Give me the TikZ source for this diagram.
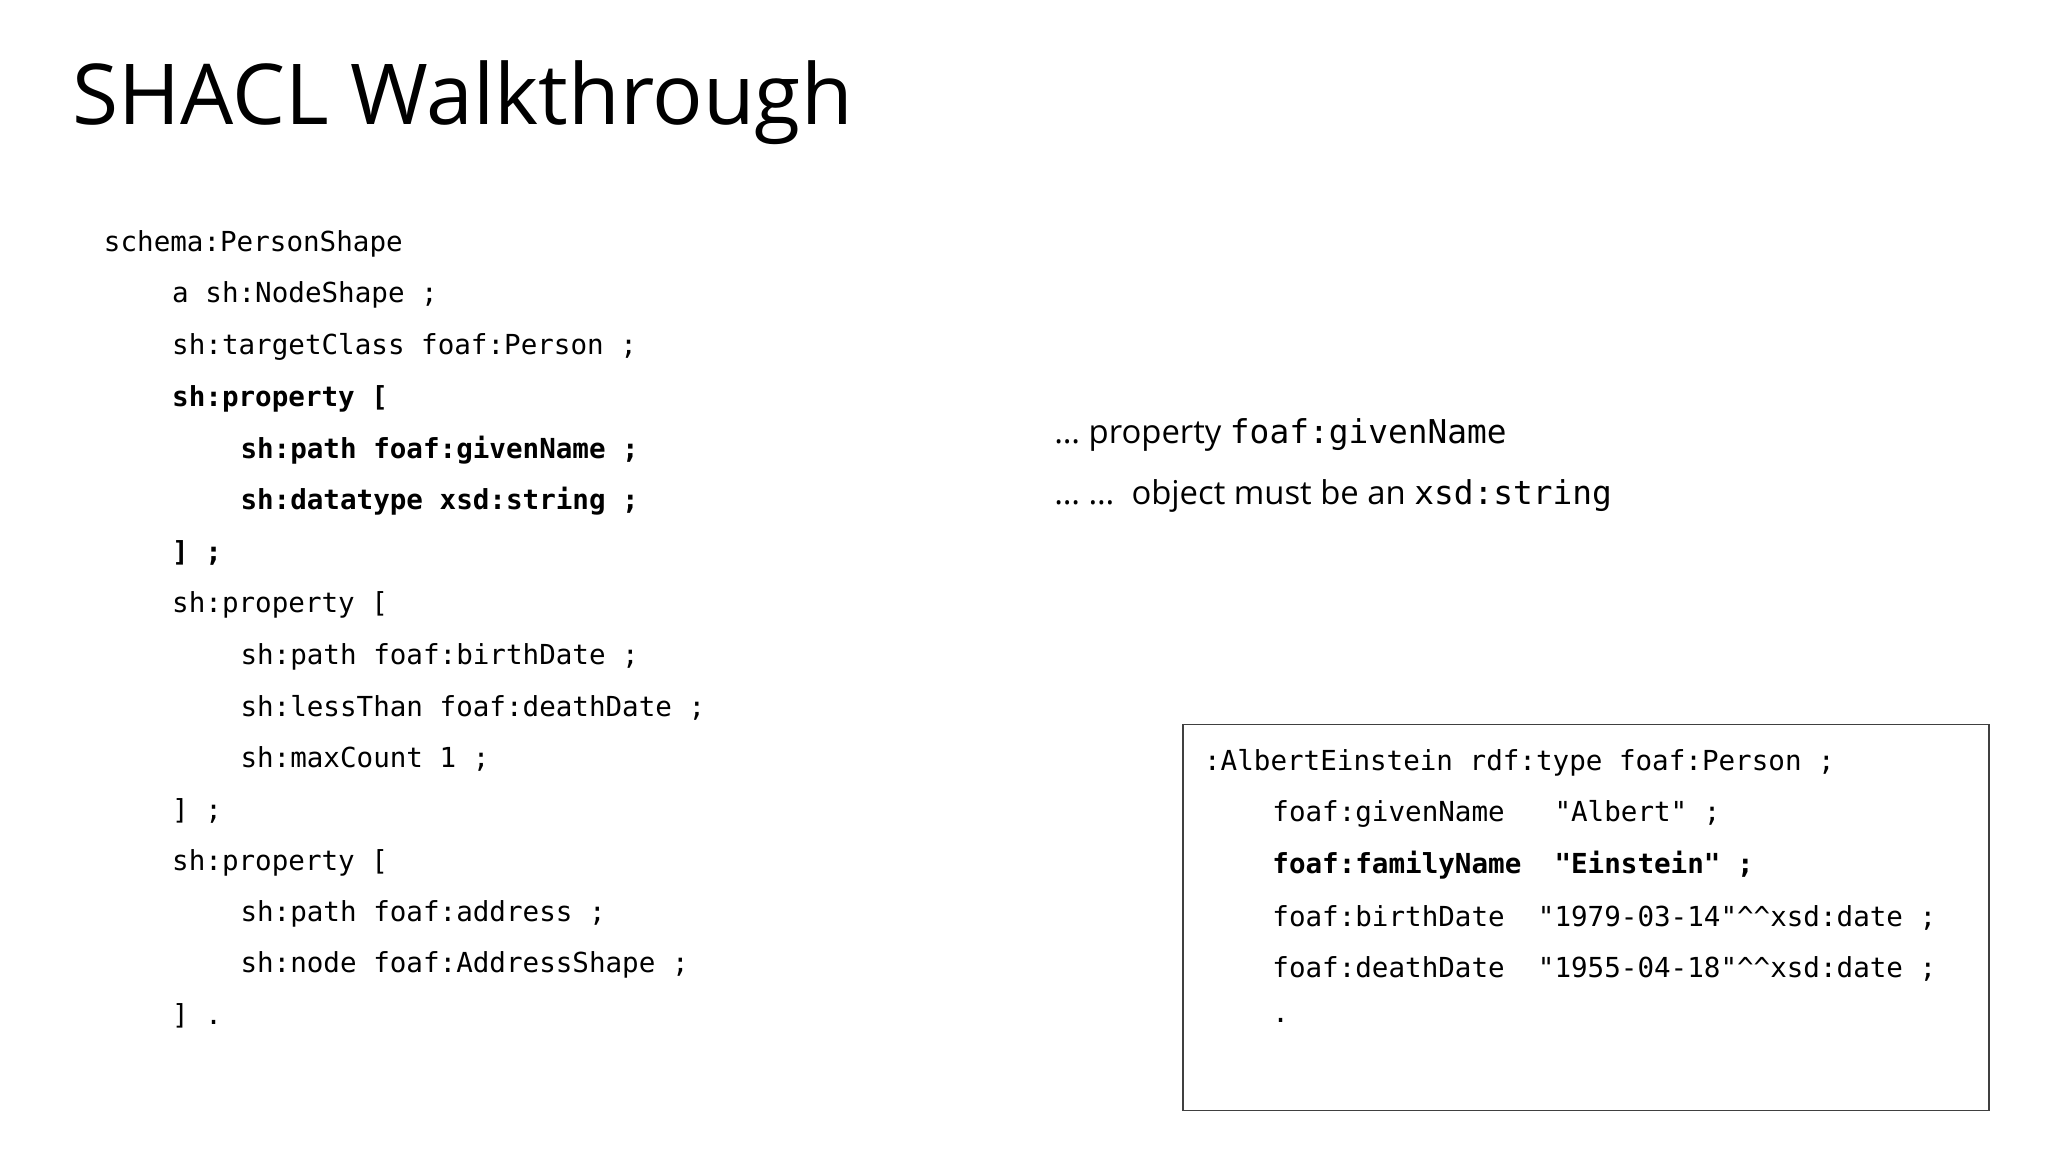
\documentclass[tikz,border=0pt]{standalone}
\usepackage{fontspec}
\setmainfont{Open Sans}
\setmonofont{DejaVu Sans Mono}
\begin{document}
\begin{tikzpicture}[x=1pt,y=-1pt]
\tikzset{code/.style={anchor=west,inner sep=0pt,font=\ttfamily\fontsize{21}{24}\selectfont},
 note/.style={anchor=west,inner sep=0pt,font=\fontsize{25}{30}\selectfont}}
\useasboundingbox (0,0) rectangle (1560,877.5);
\node[anchor=west,inner sep=0pt,font=\fontsize{64}{70}\selectfont] (title) at (55,78) {SHACL Walkthrough};
\node[code] (l1) at (79,186) {schema:PersonShape};
\node[code] (l2) at (131,225) {a sh:NodeShape ;};
\node[code] (l3) at (131,264) {sh:targetClass foaf:Person ;};
\node[code] (l4) at (131,304) {\bfseries sh:property [};
\node[code] (l5) at (183,343) {\bfseries sh:path foaf:givenName ;};
\node[code] (l6) at (183,382) {\bfseries sh:datatype xsd:string ;};
\node[code] (l7) at (131,421) {\bfseries ] ;};
\node[code] (l8) at (131,461) {sh:property [};
\node[code] (l9) at (183,500) {sh:path foaf:birthDate ;};
\node[code] (l10) at (183,539) {sh:lessThan foaf:deathDate ;};
\node[code] (l11) at (183,578) {sh:maxCount 1 ;};
\node[code] (l12) at (131,618) {] ;};
\node[code] (l13) at (131,657) {sh:property [};
\node[code] (l14) at (183,696) {sh:path foaf:address ;};
\node[code] (l15) at (183,735) {sh:node foaf:AddressShape ;};
\node[code] (l16) at (131,774) {] .};
\node[note] (n1) at (803,331) {… property \texttt{foaf:givenName}};
\node[note] (n2) at (803,378) {… …\ \ object must be an \texttt{xsd:string}};
\draw[line width=1.2pt,draw=black!75] (901,552) rectangle (1515,846);
\node[code] (b1) at (917,581) {:AlbertEinstein rdf:type foaf:Person ;};
\node[code] (b2) at (969,620) {foaf:givenName\ \ \ "Albert" ;};
\node[code] (b3) at (969,659) {\bfseries foaf:familyName\ \ "Einstein" ;};
\node[code] (b4) at (969,699) {foaf:birthDate\ \ "1979-03-14"\^{}\^{}xsd:date ;};
\node[code] (b5) at (969,738) {foaf:deathDate\ \ "1955-04-18"\^{}\^{}xsd:date ;};
\node[code] (b6) at (969,777) {.};
\end{tikzpicture}
\end{document}
